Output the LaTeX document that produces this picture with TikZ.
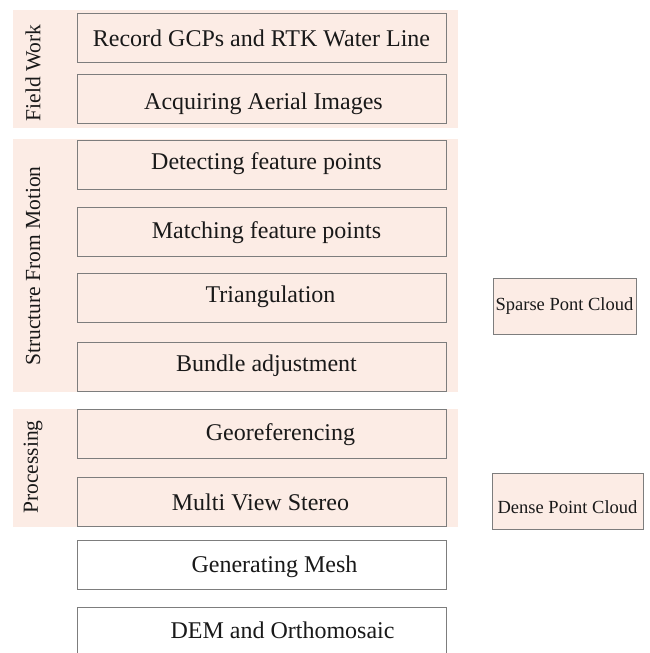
\documentclass[tikz,border=0pt]{standalone}
\usepackage{fontspec}
\setmainfont{Liberation Serif}
\definecolor{bandpink}{RGB}{252,236,229}
\definecolor{boxgray}{RGB}{125,125,125}
\definecolor{inkgray}{RGB}{25,25,25}
\tikzset{
    stepbox/.style={draw=boxgray, line width=1pt, minimum width=369pt, minimum height=49pt, inner sep=0pt},
    steptext/.style={text=inkgray, font=\fontsize{24}{26}\selectfont, inner sep=0pt},
    grouplabel/.style={text=inkgray, font=\fontsize{21.5}{23}\selectfont, rotate=90, inner sep=0pt},
    cloudbox/.style={draw=boxgray, line width=1pt, fill=bandpink, inner sep=0pt},
    cloudtext/.style={text=inkgray, font=\fontsize{18.5}{20}\selectfont, inner sep=0pt}
}
\begin{document}
\begin{tikzpicture}[x=1pt, y=-1pt]
    \clip (0,0) rectangle (649,653);
    \fill[white] (0,0) rectangle (649,653);

    % groups
    \fill[bandpink] (13,10) rectangle (458,128);
    \fill[bandpink] (13,139) rectangle (458,392);
    \fill[bandpink] (13,409) rectangle (458,527);
    \node[grouplabel] (fw) at (33,73) {Field Work};
    \node[grouplabel] (sfm) at (33,266) {Structure From Motion};
    \node[grouplabel] (pr) at (33,467) {Processing};

    % steps
    \node[stepbox] (s1) at (261.5,37.5) {};
    \node[stepbox] (s2) at (261.5,99) {};
    \node[stepbox] (s3) at (261.5,164.5) {};
    \node[stepbox] (s4) at (261.5,232) {};
    \node[stepbox] (s5) at (261.5,298) {};
    \node[stepbox] (s6) at (261.5,367) {};
    \node[stepbox] (s7) at (261.5,433.5) {};
    \node[stepbox] (s8) at (261.5,501.5) {};
    \node[stepbox, fill=white] (s9) at (261.5,564.5) {};
    \node[stepbox, fill=white, minimum height=60pt] (s10) at (261.5,637) {};

    \node[steptext, yshift=-1pt] (t1) at (s1) {Record GCPs and RTK Water Line};
    \node[steptext, xshift=2pt, yshift=-5pt] (t2) at (s2) {Acquiring Aerial Images};
    \node[steptext, xshift=5pt, yshift=1pt] (t3) at (s3) {Detecting feature points};
    \node[steptext, xshift=5pt, yshift=-1pt] (t4) at (s4) {Matching feature points};
    \node[steptext, xshift=9pt, yshift=1pt] (t5) at (s5) {Triangulation};
    \node[steptext, xshift=5pt, yshift=1pt] (t6) at (s6) {Bundle adjustment};
    \node[steptext, xshift=19pt, yshift=-1pt] (t7) at (s7) {Georeferencing};
    \node[steptext, xshift=-1pt, yshift=-1pt] (t8) at (s8) {Multi View Stereo};
    \node[steptext, xshift=13pt, yshift=-2pt] (t9) at (s9) {Generating Mesh};
    \node[steptext, xshift=21pt] (t10) at (s10.north) [yshift=-24pt] {DEM and Orthomosaic};

    % outputs
    \node[cloudbox, minimum width=143pt, minimum height=56pt] (sparse) at (564.5,306) {};
    \node[cloudbox, minimum width=151pt, minimum height=56pt] (dense) at (567.5,501) {};
    \node[cloudtext] (sparsetext) at (sparse) {Sparse Pont Cloud};
    \node[cloudtext, yshift=-6pt] (densetext) at (dense) {Dense Point Cloud};
\end{tikzpicture}
\end{document}
